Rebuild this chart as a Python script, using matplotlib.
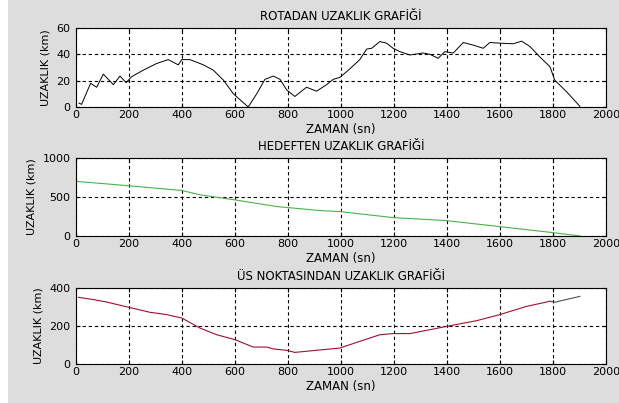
import matplotlib.pyplot as plt
from matplotlib.patches import Rectangle

plt.rcParams['font.family'] = ['DejaVu Sans']

# distance from route (km)
t_rota = [11, 21, 55, 78, 103, 141, 166, 189, 210, 254, 304, 348, 386, 399, 430,
          481, 518, 556, 594, 650, 682, 713, 745, 770, 795, 826, 870, 908, 946,
          971, 996, 1034, 1071, 1097, 1116, 1147, 1172, 1197, 1223, 1260, 1310,
          1336, 1367, 1392, 1424, 1462, 1499, 1537, 1562, 1600, 1650, 1682, 1713,
          1751, 1789, 1807, 1852, 1902]
d_rota = [3, 2, 18, 15, 25, 17, 23.5, 18.5, 23, 28, 33, 36, 32, 36, 36,
          32, 28, 20.5, 10, 0, 10, 21, 23.5, 21, 13, 8, 15, 12, 17,
          21, 22.5, 29, 36, 44, 44.6, 49.7, 48.5, 44.6, 42, 39.5, 41,
          40, 37, 42, 41, 49, 47, 44.6, 49, 48.5, 48, 50, 46,
          38, 30.6, 20.4, 11.5, 0.5]

# distance from target (km)
t_hedef = [3, 200, 399, 468, 600, 757, 921, 996, 1197, 1399, 1600, 1801, 1902]
d_hedef = [700, 644, 584, 528, 463, 378, 326, 313, 236, 197, 120, 43, 0]

# distance from base (km)
t_us = [9, 65, 116, 200, 279, 342, 399, 468, 531, 600, 669, 720, 745, 795, 826,
        870, 908, 996, 1071, 1147, 1197, 1260, 1323, 1399, 1512, 1600, 1700, 1789,
        1807, 1902]
d_us = [351, 339, 326, 298, 272, 260, 242, 189, 154, 128, 89, 89, 79, 72, 61,
        67, 72, 84, 119, 154, 160, 160, 177, 198, 228, 260, 303, 330,
        325, 356]

fig = plt.figure(figsize=(6.19, 4.03), dpi=100, facecolor='#dddddd')
fig.add_artist(Rectangle((0, 0), 8 / 619, 1, transform=fig.transFigure,
                         facecolor='white', edgecolor='none', zorder=0))

positions = [[0.1228, 0.7345, 0.856, 0.196],
             [0.1228, 0.4144, 0.856, 0.1935],
             [0.1228, 0.0968, 0.856, 0.1886]]
titles = ['ROTADAN UZAKLIK GRAFİĞİ', 'HEDEFTEN UZAKLIK GRAFİĞİ',
          'ÜS NOKTASINDAN UZAKLIK GRAFİĞİ']
ylims = [(0, 60), (0, 1000), (0, 400)]
yticks = [[0, 20, 40, 60], [0, 500, 1000], [0, 200, 400]]

axes = []
for pos, title, yl, yt in zip(positions, titles, ylims, yticks):
    ax = fig.add_axes(pos)
    ax.set_xlim(0, 2000)
    ax.set_ylim(*yl)
    ax.set_xticks(range(0, 2001, 200))
    ax.set_yticks(yt)
    ax.grid(True, color='black', linestyle=(0, (3, 2.5)), linewidth=0.8)
    ax.tick_params(direction='in', labelsize=8, length=3,
                   top=True, right=True)
    ax.tick_params(axis='x', pad=2.5)
    ax.tick_params(axis='y', pad=4)
    for s in ax.spines.values():
        s.set_linewidth(0.8)
    ax.set_title(title, fontsize=8.5, pad=5.5)
    ax.set_xlabel('ZAMAN (sn)', fontsize=8.5, labelpad=1.5)
    ax.set_ylabel('UZAKLIK (km)', fontsize=8, labelpad=4)
    axes.append(ax)

axes[0].plot(t_rota, d_rota, color='black', linewidth=0.7)
axes[1].plot(t_hedef, d_hedef, color='#48b448', linewidth=0.8)
n = t_us.index(1789) + 1
axes[2].plot(t_us[:n], d_us[:n], color='#a01030', linewidth=0.8)
axes[2].plot(t_us[n - 1:], d_us[n - 1:], color='#505050', linewidth=0.8)

fig.savefig('out.png', dpi=100, facecolor=fig.get_facecolor())
